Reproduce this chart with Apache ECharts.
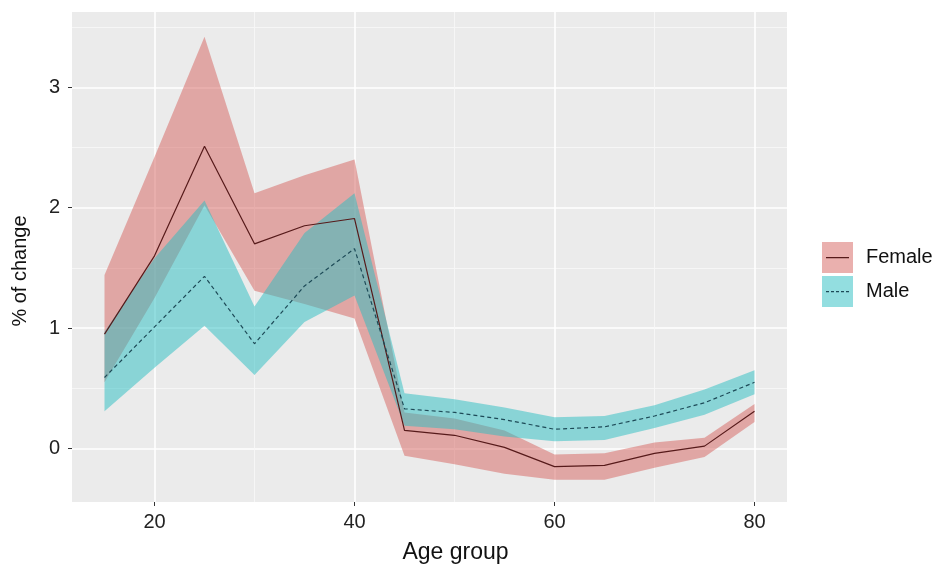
<!DOCTYPE html>
<html>
<head>
<meta charset="utf-8">
<script src="https://cdn.jsdelivr.net/npm/echarts@6/dist/echarts.min.js"></script>
<style>html,body{margin:0;padding:0;background:#fff}#c{width:938px;height:569px}</style>
</head>
<body>
<div id="c"></div>
<script>
var ages = [15, 20, 25, 30, 35, 40, 45, 50, 55, 60, 65, 70, 75, 80];
var femaleMean  = [0.95, 1.60, 2.51, 1.70, 1.85, 1.91, 0.15, 0.11, 0.01, -0.15, -0.14, -0.04, 0.02, 0.31];
var femaleLower = [0.55, 1.25, 2.02, 1.31, 1.20, 1.08, -0.06, -0.13, -0.21, -0.26, -0.26, -0.16, -0.07, 0.22];
var femaleUpper = [1.44, 2.42, 3.42, 2.12, 2.27, 2.40, 0.30, 0.25, 0.15, -0.05, -0.04, 0.05, 0.09, 0.37];
var maleMean  = [0.59, 1.01, 1.43, 0.87, 1.35, 1.66, 0.33, 0.30, 0.24, 0.16, 0.18, 0.27, 0.38, 0.55];
var maleLower = [0.31, 0.67, 1.02, 0.61, 1.05, 1.27, 0.19, 0.16, 0.10, 0.06, 0.07, 0.17, 0.28, 0.45];
var maleUpper = [0.97, 1.58, 2.06, 1.18, 1.79, 2.12, 0.46, 0.41, 0.34, 0.26, 0.27, 0.36, 0.49, 0.65];
var xMajor = [20, 40, 60, 80];
var xMinor = [30, 50, 70];
var yMajor = [0, 1, 2, 3];
var yMinor = [0.5, 1.5, 2.5, 3.5];
var groups = ['Female', 'Male'];

var FEMALE_FILL = 'rgba(214,98,94,0.5)';
var MALE_FILL = 'rgba(40,190,193,0.5)';
var FEMALE_LINE = '#561a1a';
var MALE_LINE = '#1d4a57';

var X_MIN = 11.75, X_MAX = 83.25, Y_MIN = -0.444, Y_MAX = 3.625;
var font = 'Liberation Sans, Arial, Helvetica, sans-serif';

function ribbonRows(lo, hi) { return ages.map(function (a, i) { return [a, lo[i], hi[i]]; }); }
function pairs(xs, ys) { return xs.map(function (x, i) { return [x, ys[i]]; }); }

function ribbon(name, lo, hi, fill, z) {
  return {
    name: name, type: 'custom', silent: true, z: z,
    itemStyle: { color: fill },
    data: ribbonRows(lo, hi),
    encode: { x: 0, y: [1, 2] },
    clip: true,
    renderItem: function (params, api) {
      if (params.dataIndex !== 0) return null;
      var top = [], bot = [];
      for (var i = 0; i < ages.length; i++) {
        top.push(api.coord([ages[i], hi[i]]));
        bot.push(api.coord([ages[i], lo[i]]));
      }
      return { type: 'polygon', shape: { points: top.concat(bot.reverse()) }, style: { fill: fill } };
    }
  };
}

var series = [
  ribbon(groups[0], femaleLower, femaleUpper, FEMALE_FILL, 1),
  ribbon(groups[1], maleLower, maleUpper, MALE_FILL, 2),
  { name: groups[0] + ' ', type: 'line', data: pairs(ages, femaleMean), symbol: 'none',
    itemStyle: { color: FEMALE_LINE }, lineStyle: { color: FEMALE_LINE, width: 1.2 }, z: 3 },
  { name: groups[1] + ' ', type: 'line', data: pairs(ages, maleMean), symbol: 'none',
    itemStyle: { color: MALE_LINE }, lineStyle: { color: MALE_LINE, width: 1.2, type: [4, 3] }, z: 3 }
];

// legend line keys: full-box paths (tiny corner marks fix the box) with a stroke in the middle
var BOX = 'M0,0l0.02,0l0,0.02zM23,31l-0.02,0l0,-0.02z';
var SOLID_KEY = 'path://' + BOX + 'M0,15h23v1.2h-23z';
var DASH_KEY = 'path://' + BOX + 'M0,15h3v1.2h-3zM5,15h3v1.2h-3zM10,15h3v1.2h-3zM15,15h3v1.2h-3zM20,15h3v1.2h-3z';

var chart = echarts.init(document.getElementById('c'), null, { renderer: 'canvas' });
chart.setOption({
  animation: false,
  backgroundColor: '#ffffff',
  grid: { left: 72, right: 151, top: 12, bottom: 67, show: true, backgroundColor: '#EBEBEB', borderWidth: 0 },
  xAxis: [
    { type: 'value', min: X_MIN, max: X_MAX,
      name: 'Age group', nameLocation: 'middle', nameGap: 39,
      nameTextStyle: { fontFamily: font, fontSize: 23, color: '#111', padding: [0, 0, 0, 52] },
      axisLine: { show: false, onZero: false },
      axisTick: { show: true, length: 4, lineStyle: { color: '#333', width: 1 }, customValues: xMajor },
      axisLabel: { customValues: xMajor, margin: 10, fontFamily: font, fontSize: 20, color: '#222' },
      splitLine: { show: true, lineStyle: { color: '#ffffff', width: 1.6 } } },
    { type: 'value', min: X_MIN, max: X_MAX, position: 'bottom',
      axisLine: { show: false, onZero: false },
      axisTick: { show: false, customValues: xMinor },
      axisLabel: { show: false, customValues: xMinor },
      splitLine: { show: true, lineStyle: { color: '#F7F7F7', width: 0.9 } } }
  ],
  yAxis: [
    { type: 'value', min: Y_MIN, max: Y_MAX,
      name: '% of change', nameLocation: 'middle', nameGap: 42, nameRotate: 90,
      nameTextStyle: { fontFamily: font, fontSize: 20, color: '#111', padding: [0, 28, 0, 0] },
      axisLine: { show: false, onZero: false },
      axisTick: { show: true, length: 4, lineStyle: { color: '#333', width: 1 }, customValues: yMajor },
      axisLabel: { customValues: yMajor, margin: 12, fontFamily: font, fontSize: 20, color: '#222' },
      splitLine: { show: true, lineStyle: { color: '#ffffff', width: 1.6 } } },
    { type: 'value', min: Y_MIN, max: Y_MAX, position: 'left',
      axisLine: { show: false, onZero: false },
      axisTick: { show: false, customValues: yMinor },
      axisLabel: { show: false, customValues: yMinor },
      splitLine: { show: true, lineStyle: { color: '#F7F7F7', width: 0.9 } } }
  ],
  legend: [
    { orient: 'vertical', left: 822, top: 242, padding: 0, itemWidth: 31, itemHeight: 31, itemGap: 3,
      icon: 'rect', selectedMode: false, z: 5,
      textStyle: { fontFamily: font, fontSize: 20, color: '#111', padding: [0, 0, 0, 8] },
      data: [
        { name: groups[0], itemStyle: { color: FEMALE_FILL } },
        { name: groups[1], itemStyle: { color: MALE_FILL } }
      ] },
    { orient: 'vertical', left: 826, top: 242, padding: 0, itemWidth: 23, itemHeight: 31, itemGap: 3,
      selectedMode: false, symbolKeepAspect: false, z: 6,
      textStyle: { fontFamily: font, fontSize: 20, color: 'rgba(0,0,0,0)' },
      data: [
        { name: groups[0] + ' ', icon: SOLID_KEY, itemStyle: { color: FEMALE_LINE } },
        { name: groups[1] + ' ', icon: DASH_KEY, itemStyle: { color: MALE_LINE } }
      ] }
  ],
  series: series
});
</script>
</body>
</html>
